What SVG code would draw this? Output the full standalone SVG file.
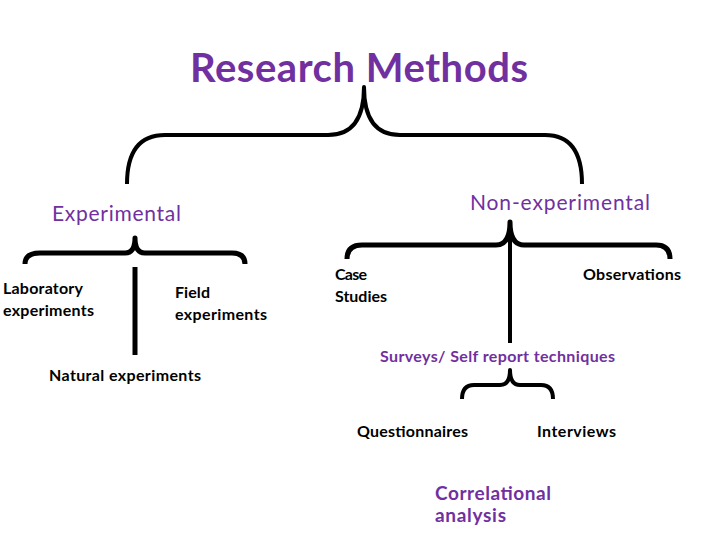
<svg xmlns="http://www.w3.org/2000/svg" width="720" height="540" viewBox="0 0 720 540">
<style>
.t{font-family:Lato,"Open Sans","Liberation Sans",sans-serif;}
.p{fill:#7030A0;}
.k{fill:#000;font-weight:bold;font-size:16px;}
.b{fill:none;stroke:#000;stroke-linecap:butt;stroke-linejoin:round;}
</style>
<rect width="720" height="540" fill="#fff"/>
<g id="connectors">
<path class="b" stroke-width="4" d="M127,184 Q127,135 165,135 L328,135 Q364,135 364,87 Q364,135 400,135 L545,135 Q582,135 582,184"/>
<path class="b" stroke-width="5" d="M25,264 Q25,253 40,253 L125,253 Q135,253 135,238 Q135,253 145,253 L232,253 Q245,253 245,264"/>
<line class="b" stroke-width="5" x1="135" y1="267" x2="135" y2="355"/>
<path class="b" stroke-width="5" d="M347,259 Q347,245 362,245 L496,245 Q510,245 510,222 Q510,245 524,245 L656,245 Q670,245 670,259"/>
<line class="b" stroke-width="4" x1="510" y1="230" x2="510" y2="343"/>
<path class="b" stroke-width="4" d="M462,399 Q462,385 474,385 L500,385 Q510,385 510,370 Q510,385 520,385 L541,385 Q553,385 553,399"/>
</g>
<g id="research-methods"><text class="t p" x="190" y="82" font-size="40" font-weight="bold" textLength="338" lengthAdjust="spacing">Research Methods</text></g>
<g id="experimental"><text class="t p" x="52" y="221" font-size="21" textLength="129" lengthAdjust="spacing">Experimental</text></g>
<g id="non-experimental"><text class="t p" x="470" y="210" font-size="21" textLength="180" lengthAdjust="spacing">Non-experimental</text></g>
<g id="laboratory"><text class="t k" x="3" y="294" textLength="80" lengthAdjust="spacing">Laboratory</text><text class="t k" x="3" y="316" textLength="91" lengthAdjust="spacing">experiments</text></g>
<g id="field"><text class="t k" x="175" y="298" textLength="35" lengthAdjust="spacing">Field</text><text class="t k" x="175" y="320" textLength="92" lengthAdjust="spacing">experiments</text></g>
<g id="natural"><text class="t k" x="49" y="381" textLength="152" lengthAdjust="spacing">Natural experiments</text></g>
<g id="case-studies"><text class="t k" x="335" y="280" textLength="32" lengthAdjust="spacing">Case</text><text class="t k" x="335" y="302" textLength="52" lengthAdjust="spacing">Studies</text></g>
<g id="observations"><text class="t k" x="583" y="280" textLength="98" lengthAdjust="spacing">Observations</text></g>
<g id="surveys"><text class="t p" x="380" y="362" font-size="16" font-weight="bold" textLength="235" lengthAdjust="spacing">Surveys/ Self report techniques</text></g>
<g id="questionnaires"><text class="t k" x="357" y="437" textLength="111" lengthAdjust="spacing">Questionnaires</text></g>
<g id="interviews"><text class="t k" x="537" y="437" textLength="79" lengthAdjust="spacing">Interviews</text></g>
<g id="correlational"><text class="t p" x="435" y="500" font-size="19" font-weight="bold" textLength="116" lengthAdjust="spacing">Correlational</text><text class="t p" x="435" y="522" font-size="19" font-weight="bold" textLength="71" lengthAdjust="spacing">analysis</text></g>
</svg>
